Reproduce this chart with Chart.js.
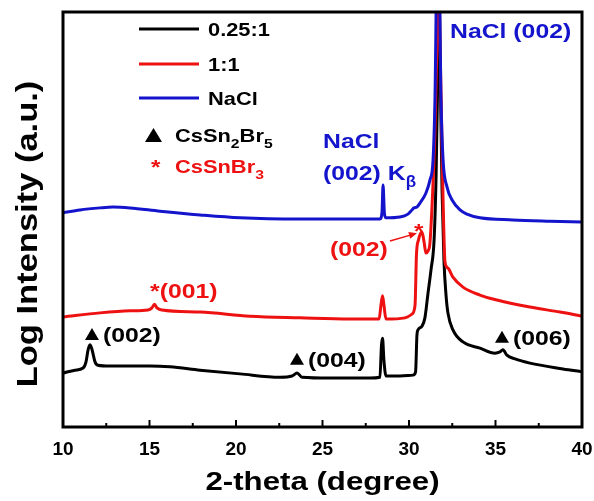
<!DOCTYPE html>
<html>
<head>
<meta charset="utf-8">
<script src="https://cdn.jsdelivr.net/npm/chart.js@4.4.1/dist/chart.umd.min.js"></script>
<style>
  html, body { margin: 0; padding: 0; background: #fff; }
  canvas { display: block; }
</style>
</head>
<body>
<canvas id="xrd" width="594" height="501"></canvas>
<script>
// ================= DATA =================
// 2-theta positions (degree) and offset log intensities (a.u.)
const blackTheta = [10.00, 10.69, 11.16, 11.33, 11.45, 11.56, 11.68, 11.85, 12.02, 12.72, 15.03, 16.18, 17.92, 20.23, 22.54, 23.24, 23.53, 23.82, 25.43, 27.75, 28.32, 28.41, 28.47, 28.55, 28.67, 29.48, 30.23, 30.38, 30.46, 30.52, 30.75, 30.92, 31.10, 31.27, 31.45, 31.56, 31.68, 31.73, 31.79, 31.91, 32.02, 32.14, 32.25, 32.54, 33.12, 34.10, 34.97, 35.26, 35.43, 35.66, 36.13, 36.99, 38.90, 40.00];
const blackLog   = [13.0, 13.7, 14.2, 15.7, 18.6, 19.8, 18.6, 15.7, 14.9, 14.7, 14.7, 14.5, 13.7, 12.8, 12.0, 12.3, 13.0, 12.0, 11.8, 11.8, 12.0, 19.8, 21.4, 16.1, 12.3, 12.3, 12.5, 13.3, 22.2, 23.4, 24.3, 26.3, 32.3, 37.8, 45.1, 59.5, 88.4, 112, 88.4, 57.1, 40.2, 31.8, 27.5, 23.4, 20.5, 19.0, 17.8, 18.1, 18.6, 17.3, 16.4, 15.4, 14.0, 13.3];

const redTheta = [10.00, 12.14, 13.87, 14.91, 15.14, 15.29, 15.43, 15.72, 17.92, 20.81, 23.70, 26.59, 28.27, 28.38, 28.47, 28.55, 28.67, 29.77, 30.17, 30.35, 30.43, 30.55, 30.75, 30.87, 30.98, 31.10, 31.21, 31.39, 31.50, 31.62, 31.71, 31.79, 31.88, 31.97, 32.08, 32.25, 32.54, 33.12, 34.10, 35.09, 36.99, 38.73, 40.00];
const redLog   = [26.5, 27.5, 28.0, 28.2, 28.7, 29.6, 28.7, 28.2, 27.7, 26.7, 26.3, 26.0, 26.0, 29.4, 31.6, 29.4, 26.0, 26.3, 27.2, 29.4, 41.4, 45.1, 47.0, 44.6, 41.9, 42.4, 44.3, 58.8, 71.6, 93.3, 112, 93.3, 74.0, 54.7, 39.8, 38.3, 36.1, 33.7, 31.8, 30.6, 28.9, 27.7, 26.7];

const naclTheta = [10.00, 10.98, 12.14, 12.89, 13.87, 15.61, 17.92, 20.23, 23.70, 27.17, 28.32, 28.44, 28.50, 28.58, 28.67, 29.48, 29.94, 30.17, 30.29, 30.46, 30.64, 30.98, 31.21, 31.39, 31.50, 31.68, 31.85, 31.97, 32.20, 32.49, 32.95, 33.35, 34.10, 36.01, 38.15, 40.00];
const naclLog   = [51.6, 52.3, 52.8, 53.0, 52.8, 52.0, 51.1, 50.4, 50.1, 50.1, 50.1, 51.8, 58.3, 51.4, 50.4, 50.6, 51.3, 52.3, 52.8, 53.0, 54.0, 56.4, 59.5, 64.3, 78.8, 130, 78.8, 64.3, 57.8, 54.7, 52.3, 51.3, 50.4, 49.9, 49.6, 49.4];

const seriesNames = ["0.25:1", "1:1", "NaCl"];
const seriesColors = ["#000000", "#ee1111", "#1414cc"];
const xTicks = [10, 15, 20, 25, 30, 35, 40];

const FONT = '"Liberation Sans", Arial, sans-serif';

function toPoints(xs, ys) {
  return xs.map((x, i) => ({ x: x, y: ys[i] }));
}

// ================= TEXT HELPERS =================
// the figure's lettering is a little wider than Arial, so stretch it
function drawText(ctx, str, x, y, size, color, sx, align) {
  ctx.save();
  ctx.font = "bold " + size + "px " + FONT;
  ctx.fillStyle = color;
  ctx.textBaseline = "alphabetic";
  ctx.textAlign = align || "left";
  ctx.translate(x, y);
  ctx.scale(sx, 1);
  ctx.fillText(str, 0, 0);
  const w = ctx.measureText(str).width * sx;
  ctx.restore();
  return w;
}

// runs like [["CsSn"], ["2", true]] -> second item marks a subscript
function drawRuns(ctx, runs, x, y, size, color, sx) {
  let cx = x;
  runs.forEach(r => {
    if (r[1]) cx += drawText(ctx, r[0], cx, y + size * 0.32, size * 0.72, color, sx);
    else cx += drawText(ctx, r[0], cx, y, size, color, sx);
  });
  return cx - x;
}

function triangle(ctx, x, y, w, h, color) {
  // x,y = bottom-left corner
  ctx.save();
  ctx.fillStyle = color;
  ctx.beginPath();
  ctx.moveTo(x, y);
  ctx.lineTo(x + w, y);
  ctx.lineTo(x + w / 2, y - h);
  ctx.closePath();
  ctx.fill();
  ctx.restore();
}

// ================= FRAME / TICKS / LABELS =================
const decorations = {
  id: "decorations",
  afterDatasetsDraw(chart) {
    const ctx = chart.ctx;
    const a = chart.chartArea;
    const xs = chart.scales.x;
    const ys = chart.scales.y;
    const px = v => xs.getPixelForValue(v);
    const py = v => ys.getPixelForValue(v);

    // frame
    ctx.save();
    ctx.strokeStyle = "#000";
    ctx.lineWidth = 3;
    ctx.strokeRect(a.left, a.top, a.right - a.left, a.bottom - a.top);

    // inward ticks on the bottom axis
    ctx.lineWidth = 2;
    for (let i = 0; i < xTicks.length; i++) {
      const t = xTicks[i];
      ctx.beginPath();
      ctx.moveTo(px(t), a.bottom);
      ctx.lineTo(px(t), a.bottom - 7);
      ctx.stroke();
      if (i < xTicks.length - 1) {
        const m = (t + xTicks[i + 1]) / 2;
        ctx.beginPath();
        ctx.moveTo(px(m), a.bottom);
        ctx.lineTo(px(m), a.bottom - 4);
        ctx.stroke();
      }
    }
    ctx.restore();

    // legend
    const lx = a.left + 76;
    const rows = [a.top + 17, a.top + 52, a.top + 86];
    seriesNames.forEach((name, i) => {
      ctx.save();
      ctx.strokeStyle = seriesColors[i];
      ctx.lineWidth = 3;
      ctx.beginPath();
      ctx.moveTo(lx, rows[i]);
      ctx.lineTo(lx + 60, rows[i]);
      ctx.stroke();
      ctx.restore();
      drawText(ctx, name, lx + 69, rows[i] + 7, 19, "#000", 1.15);
    });
    triangle(ctx, a.left + 82, a.top + 130, 17, 14, "#000");
    drawRuns(ctx, [["CsSn"], ["2", true], ["Br"], ["5", true]], a.left + 112, a.top + 130, 19, "#000", 1.15);
    drawText(ctx, "*", a.left + 88, a.top + 162, 21, seriesColors[1], 1.15);
    drawRuns(ctx, [["CsSnBr"], ["3", true]], a.left + 112, a.top + 161, 19, seriesColors[1], 1.15);

    // peak labels
    const blue = seriesColors[2], red = seriesColors[1];
    drawText(ctx, "NaCl (002)", px(32.37), py(93.7), 21, blue, 1.18);
    drawText(ctx, "NaCl", px(25.03), py(67.2), 21, blue, 1.18);
    let w = drawText(ctx, "(002) K", px(25.03), py(59.5), 21, blue, 1.18);
    drawText(ctx, "\u03b2", px(25.03) + w, py(59.5) + 7, 17, blue, 1.0);

    drawText(ctx, "(002)", px(25.43), py(41.2), 21, red, 1.18);
    drawText(ctx, "*", px(30.64) - 6, py(48.7) + 13, 21, red, 1.15);
    // arrow to the CsSnBr3 (002) peak
    const x0 = px(28.9), y0 = py(44.8), x1 = px(30.46), y1 = py(46.7);
    const ang = Math.atan2(y1 - y0, x1 - x0);
    ctx.save();
    ctx.strokeStyle = red;
    ctx.fillStyle = red;
    ctx.lineWidth = 1.5;
    ctx.beginPath();
    ctx.moveTo(x0, y0);
    ctx.lineTo(x1 - 5 * Math.cos(ang), y1 - 5 * Math.sin(ang));
    ctx.stroke();
    ctx.beginPath();
    ctx.moveTo(x1, y1);
    ctx.lineTo(x1 - 8 * Math.cos(ang) + 3.5 * Math.sin(ang), y1 - 8 * Math.sin(ang) - 3.5 * Math.cos(ang));
    ctx.lineTo(x1 - 8 * Math.cos(ang) - 3.5 * Math.sin(ang), y1 - 8 * Math.sin(ang) + 3.5 * Math.cos(ang));
    ctx.closePath();
    ctx.fill();
    ctx.restore();

    drawText(ctx, "*(001)", px(15.03), py(31.1), 21, red, 1.18);

    const tri = [[11.27, 20.5, "(002)"], [23.12, 14.5, "(004)"], [34.97, 19.8, "(006)"]];
    tri.forEach(t => {
      triangle(ctx, px(t[0]), py(t[1]) - 2, 14, 12, "#000");
      drawText(ctx, t[2], px(t[0]) + 18, py(t[1]), 21, "#000", 1.18);
    });

    // axis titles
    drawText(ctx, "2-theta (degree)", (a.left + a.right) / 2, 490, 26, "#000", 1.2, "center");
    ctx.save();
    ctx.translate(37, 234);
    ctx.rotate(-Math.PI / 2);
    drawText(ctx, "Log Intensity (a.u.)", 0, 0, 30, "#000", 1.15, "center");
    ctx.restore();
  }
};

// ================= CHART =================
const datasets = [
  { label: seriesNames[0], data: toPoints(blackTheta, blackLog), borderColor: seriesColors[0], order: 2 },
  { label: seriesNames[1], data: toPoints(redTheta, redLog), borderColor: seriesColors[1], order: 1 },
  { label: seriesNames[2], data: toPoints(naclTheta, naclLog), borderColor: seriesColors[2], order: 0 }
].map(d => Object.assign(d, {
  borderWidth: 3,
  pointRadius: 0,
  fill: false,
  cubicInterpolationMode: "monotone"
}));

new Chart(document.getElementById("xrd"), {
  type: "line",
  data: { datasets: datasets },
  options: {
    responsive: false,
    animation: false,
    layout: { padding: { left: 63, right: 12, top: 12, bottom: 0 } },
    plugins: { legend: { display: false }, tooltip: { enabled: false } },
    scales: {
      x: {
        type: "linear",
        min: 10,
        max: 40,
        afterBuildTicks: scale => { scale.ticks = xTicks.map(v => ({ value: v })); },
        afterFit: scale => {
          scale.height = 74;
          // end labels may hang over the plot edges
          scale.paddingLeft = 0;
          scale.paddingRight = 0;
        },
        grid: { display: false },
        border: { display: false },
        ticks: {
          color: "#000",
          padding: 3,
          maxRotation: 0,
          font: { family: FONT, size: 19, weight: "bold" }
        }
      },
      y: {
        display: false,
        min: 0,
        max: 100
      }
    }
  },
  plugins: [decorations]
});
</script>
</body>
</html>
